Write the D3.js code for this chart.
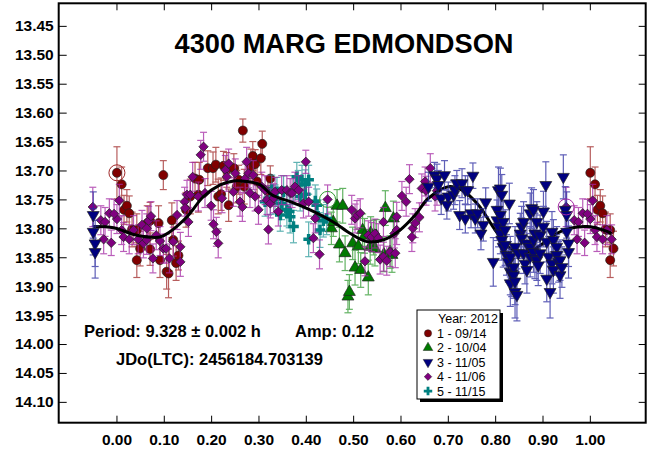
<!DOCTYPE html>
<html><head><meta charset="utf-8">
<script src="https://cdn.jsdelivr.net/npm/d3@7"></script>
<style>body{margin:0;background:#fff} text{font-family:"Liberation Sans",Arial,sans-serif}</style>
</head><body><svg id="c" width="649" height="451"></svg>
<script>
// ---------- data ----------
const titleText = "4300 MARG EDMONDSON";
const xTicks = [0.0,0.1,0.2,0.3,0.4,0.5,0.6,0.7,0.8,0.9,1.0];
const yTicks = [13.45,13.50,13.55,13.60,13.65,13.70,13.75,13.80,13.85,13.90,13.95,14.00,14.05,14.10];
const legendTitle = "Year: 2012";
const legendLabels = ["1 - 09/14","2 - 10/04","3 - 11/05","4 - 11/06","5 - 11/15"];

// [phase, magnitude, error]
const s1 = [[0.001,13.704,0.045],[0.011,13.724,0.030],[0.016,13.768,0.025],[0.022,13.761,0.028],[0.027,13.774,0.030],
[0.033,13.802,0.030],[0.043,13.803,0.028],[0.043,13.855,0.030],[0.050,13.835,0.030],[0.065,13.791,0.030],
[0.071,13.787,0.032],[0.071,13.836,0.028],[0.089,13.791,0.030],[0.092,13.855,0.030],[0.099,13.708,0.025],
[0.106,13.875,0.030],[0.110,13.878,0.042],[0.117,13.786,0.030],[0.120,13.820,0.028],[0.126,13.860,0.030],
[0.131,13.847,0.025],[0.147,13.768,0.030],[0.156,13.745,0.030],[0.166,13.714,0.028],[0.173,13.742,0.030],
[0.175,13.716,0.030],[0.193,13.696,0.030],[0.204,13.696,0.028],[0.210,13.690,0.030],[0.215,13.745,0.030],
[0.221,13.741,0.028],[0.226,13.692,0.025],[0.233,13.699,0.030],[0.237,13.760,0.028],[0.248,13.696,0.025],
[0.254,13.728,0.028],[0.258,13.716,0.025],[0.267,13.631,0.020],[0.270,13.728,0.030],[0.284,13.693,0.030],
[0.288,13.675,0.025],[0.293,13.689,0.025],[0.297,13.719,0.028],[0.305,13.679,0.028],[0.308,13.654,0.022],
[0.320,13.736,0.025],[0.325,13.714,0.022]];

const s2 = [[0.454,13.800,0.028],[0.458,13.789,0.025],[0.466,13.761,0.028],[0.471,13.828,0.030],[0.478,13.761,0.030],
[0.483,13.843,0.030],[0.489,13.918,0.028],[0.492,13.910,0.030],[0.499,13.826,0.028],[0.504,13.868,0.030],
[0.511,13.831,0.030],[0.516,13.872,0.030],[0.520,13.803,0.028],[0.524,13.813,0.030],[0.532,13.885,0.030],
[0.536,13.832,0.030],[0.537,13.808,0.028],[0.543,13.816,0.030],[0.549,13.813,0.028],[0.546,13.835,0.030],
[0.565,13.845,0.030],[0.568,13.765,0.030],[0.578,13.841,0.028],[0.582,13.846,0.030],[0.585,13.783,0.030]];

const s3 = [[0.659,13.728,0.025],[0.672,13.708,0.022],[0.677,13.714,0.025],[0.680,13.725,0.025],[0.686,13.748,0.028],
[0.693,13.708,0.025],[0.698,13.759,0.025],[0.701,13.745,0.025],[0.712,13.742,0.025],[0.715,13.734,0.025],
[0.719,13.722,0.022],[0.725,13.777,0.025],[0.730,13.722,0.025],[0.737,13.783,0.025],[0.737,13.734,0.025],
[0.742,13.734,0.025],[0.749,13.774,0.025],[0.753,13.709,0.022],[0.758,13.783,0.025],[0.763,13.774,0.025],
[0.770,13.809,0.028],[0.775,13.794,0.028],[0.780,13.755,0.025],[0.796,13.858,0.042],[0.804,13.768,0.035],
[0.804,13.786,0.035],[0.807,13.734,0.040],[0.807,13.797,0.035],[0.811,13.731,0.035],[0.811,13.777,0.035],
[0.811,13.809,0.035],[0.814,13.742,0.035],[0.814,13.820,0.035],[0.817,13.789,0.035],[0.817,13.832,0.035],
[0.821,13.803,0.035],[0.821,13.829,0.035],[0.824,13.846,0.035],[0.828,13.858,0.035],[0.830,13.757,0.035],
[0.832,13.849,0.035],[0.832,13.875,0.040],[0.832,13.895,0.040],[0.835,13.878,0.040],[0.839,13.867,0.035],
[0.839,13.881,0.040],[0.842,13.892,0.040],[0.842,13.910,0.045],[0.842,13.832,0.035],[0.846,13.915,0.045],
[0.849,13.843,0.035],[0.853,13.809,0.035],[0.856,13.797,0.035],[0.856,13.817,0.035],[0.860,13.789,0.035],
[0.860,13.843,0.035],[0.863,13.861,0.035],[0.867,13.826,0.035],[0.867,13.872,0.040],[0.874,13.832,0.035],
[0.874,13.849,0.035],[0.874,13.774,0.035],[0.877,13.765,0.035],[0.881,13.768,0.035],[0.881,13.820,0.035],
[0.881,13.841,0.035],[0.884,13.809,0.035],[0.884,13.852,0.035],[0.888,13.789,0.035],[0.888,13.855,0.035],
[0.891,13.864,0.035],[0.895,13.843,0.035],[0.895,13.812,0.035],[0.902,13.771,0.035],[0.902,13.797,0.035],
[0.907,13.725,0.040],[0.909,13.823,0.035],[0.909,13.887,0.040],[0.913,13.849,0.035],[0.916,13.910,0.045],
[0.920,13.806,0.035],[0.920,13.861,0.035],[0.923,13.820,0.035],[0.923,13.872,0.040],[0.930,13.832,0.035],
[0.930,13.846,0.035],[0.934,13.858,0.035],[0.937,13.855,0.035],[0.937,13.881,0.040],[0.941,13.867,0.035],
[0.944,13.711,0.038],[0.948,13.768,0.040],[0.951,13.777,0.040],[0.951,13.806,0.040],[0.955,13.841,0.045],
[0.955,13.826,0.040]];

const s4 = [[0.950,13.763,0.034],[0.001,13.784,0.025],[0.006,13.752,0.028],[0.011,13.803,0.025],[0.015,13.815,0.025],
[0.027,13.819,0.025],[0.036,13.803,0.025],[0.046,13.819,0.025],[0.054,13.794,0.025],[0.057,13.826,0.025],
[0.064,13.800,0.025],[0.064,13.820,0.025],[0.068,13.787,0.025],[0.073,13.779,0.025],[0.077,13.852,0.025],
[0.084,13.812,0.025],[0.092,13.822,0.025],[0.099,13.835,0.025],[0.105,13.835,0.025],[0.112,13.852,0.025],
[0.120,13.823,0.025],[0.128,13.777,0.025],[0.135,13.832,0.025],[0.135,13.858,0.025],[0.144,13.754,0.025],
[0.145,13.765,0.025],[0.149,13.742,0.025],[0.152,13.789,0.025],[0.156,13.742,0.025],[0.161,13.711,0.025],
[0.173,13.745,0.025],[0.178,13.673,0.025],[0.184,13.659,0.025],[0.187,13.739,0.025],[0.200,13.761,0.025],
[0.205,13.793,0.025],[0.211,13.806,0.025],[0.215,13.826,0.025],[0.223,13.748,0.025],[0.230,13.699,0.025],
[0.233,13.711,0.025],[0.237,13.688,0.025],[0.247,13.737,0.025],[0.251,13.705,0.025],[0.261,13.754,0.025],
[0.266,13.763,0.025],[0.272,13.714,0.025],[0.275,13.685,0.025],[0.279,13.705,0.025],[0.282,13.739,0.025],
[0.289,13.708,0.025],[0.293,13.745,0.025],[0.300,13.768,0.025],[0.307,13.728,0.025],[0.314,13.734,0.025],
[0.318,13.751,0.025],[0.321,13.802,0.025],[0.325,13.757,0.025],[0.332,13.748,0.025],[0.335,13.737,0.025],
[0.342,13.771,0.025],[0.349,13.734,0.025],[0.360,13.734,0.025],[0.367,13.739,0.025],[0.371,13.739,0.025],
[0.377,13.728,0.025],[0.385,13.734,0.025],[0.395,13.757,0.025],[0.400,13.685,0.020],[0.406,13.754,0.025],
[0.416,13.817,0.025],[0.420,13.783,0.025],[0.429,13.845,0.025],[0.446,13.750,0.025],[0.497,13.768,0.025],
[0.504,13.783,0.025],[0.508,13.777,0.025],[0.515,13.774,0.025],[0.525,13.857,0.025],[0.532,13.812,0.025],
[0.539,13.815,0.025],[0.546,13.809,0.025],[0.553,13.817,0.025],[0.557,13.854,0.025],[0.564,13.849,0.025],
[0.564,13.789,0.025],[0.571,13.856,0.025],[0.578,13.841,0.025],[0.587,13.809,0.025],[0.589,13.843,0.025],
[0.592,13.803,0.025],[0.592,13.780,0.025],[0.603,13.744,0.025],[0.612,13.754,0.025],[0.619,13.715,0.025],
[0.624,13.815,0.025],[0.626,13.800,0.025],[0.631,13.791,0.025],[0.640,13.781,0.025],[0.645,13.731,0.025],
[0.652,13.719,0.025],[0.654,13.735,0.025],[0.663,13.696,0.025],[0.673,13.745,0.025],[0.677,13.735,0.025],
[0.967,13.786,0.025],[0.973,13.819,0.025],[0.976,13.789,0.025],[0.985,13.774,0.025],[0.989,13.825,0.022],
[0.995,13.775,0.025]];

const s5 = [[0.314,13.754,0.025],[0.328,13.733,0.025],[0.325,13.751,0.025],[0.339,13.737,0.025],[0.335,13.750,0.025],
[0.349,13.757,0.028],[0.353,13.737,0.028],[0.346,13.777,0.028],[0.360,13.768,0.028],[0.365,13.771,0.028],
[0.374,13.797,0.028],[0.374,13.734,0.025],[0.381,13.711,0.025],[0.384,13.725,0.025],[0.392,13.716,0.025],
[0.388,13.745,0.025],[0.399,13.724,0.025],[0.399,13.741,0.025],[0.406,13.716,0.025],[0.406,13.819,0.030],
[0.420,13.753,0.028],[0.423,13.760,0.028],[0.426,13.779,0.028],[0.430,13.803,0.030],[0.437,13.787,0.028],
[0.444,13.783,0.028],[0.367,13.780,0.028]];

// first observation of sessions (circled)
const startPts = [[0,0.001,13.704],[1,0.446,13.750],[3,0.950,13.763]];

const fitPhase = [-0.049,-0.006,0.043,0.092,0.113,0.149,0.184,0.219,0.247,0.275,0.304,0.328,0.371,0.409,0.458,0.494,
0.529,0.564,0.599,0.631,0.659,0.701,0.730,0.765,0.800,0.832,0.860,0.902,0.930,0.958,0.994,1.029,1.046];
const fitMag = [13.797,13.799,13.812,13.815,13.806,13.780,13.745,13.725,13.718,13.719,13.725,13.742,13.755,13.768,13.789,13.809,
13.823,13.820,13.803,13.777,13.748,13.728,13.734,13.760,13.803,13.835,13.843,13.826,13.809,13.800,13.797,13.803,13.809];

const periodText = "Period: 9.328 \u00b1 0.002 h";
const ampText = "Amp: 0.12";
const jdText = "JDo(LTC): 2456184.703139";

// ---------- drawing ----------
const svg = d3.select("#c");
const L=58.7, R=645.7, T=3.3, B=422.7;
const x = d3.scaleLinear().domain([-0.122,1.118]).range([L,R]);
const y = d3.scaleLinear().domain([13.411,14.136]).range([T,B]);

const series = [
  {data:s1, fill:"#800000", bar:"#a02828", type:"circle"},
  {data:s2, fill:"#007a00", bar:"#2f9a2f", type:"up"},
  {data:s3, fill:"#000080", bar:"#2a2aa0", type:"down"},
  {data:s4, fill:"#800080", bar:"#a428a4", type:"diamond"},
  {data:s5, fill:"#008080", bar:"#2a9a9a", type:"plus"}
];

function markerPath(type, s){
  s = s||1;
  if(type==="circle") return d3.symbol(d3.symbolCircle, 64*s*s)();
  if(type==="up") return d3.symbol(d3.symbolTriangle, 62*s*s)();
  if(type==="down") return d3.symbol(d3.symbolTriangle, 62*s*s)();
  if(type==="diamond") return d3.symbol(d3.symbolSquare, 44*s*s)();
  if(type==="plus") return d3.symbol(d3.symbolCross, 62*s*s)();
}
function markerTransform(type, px, py){
  if(type==="down") return `translate(${px},${py}) rotate(180)`;
  if(type==="diamond") return `translate(${px},${py}) rotate(45)`;
  return `translate(${px},${py})`;
}
function expand(data){
  const out=[];
  data.forEach(d=>{
    out.push([d[0],d[1],d[2]]);
    if(d[0]<=0.05) out.push([d[0]+1,d[1],d[2]]);
    if(d[0]>=0.95) out.push([d[0]-1,d[1],d[2]]);
  });
  return out;
}

const plot = svg.append("g");
function drawSeries(sr){
  const pts = expand(sr.data);
  const g = plot.append("g");
  const eb = g.append("g").attr("stroke",sr.bar).attr("stroke-width",1.2).attr("opacity",0.75);
  pts.forEach(d=>{
    const px=x(d[0]), y1=y(d[1]-d[2]), y2=y(d[1]+d[2]);
    eb.append("line").attr("x1",px).attr("x2",px).attr("y1",y1).attr("y2",y2);
    eb.append("line").attr("x1",px-3.5).attr("x2",px+3.5).attr("y1",y1).attr("y2",y1);
    eb.append("line").attr("x1",px-3.5).attr("x2",px+3.5).attr("y1",y2).attr("y2",y2);
  });
  g.selectAll("path.m").data(pts).join("path").attr("class","m")
    .attr("d",markerPath(sr.type))
    .attr("transform",d=>markerTransform(sr.type,x(d[0]),y(d[1])))
    .attr("fill",sr.fill)
    .attr("stroke",sr.type==="plus"?"none":"#222")
    .attr("stroke-width",0.7);
}
// draw order
[0,1,4,3].forEach(i=>drawSeries(series[i]));
// fit curve
const fit = fitPhase.map((p,i)=>[p,fitMag[i]]);
plot.append("path").datum(fit)
  .attr("d",d3.line().x(d=>x(d[0])).y(d=>y(d[1])).curve(d3.curveCatmullRom))
  .attr("fill","none").attr("stroke","#000").attr("stroke-width",3);
drawSeries(series[2]);
// session start rings (at the original phase only)
startPts.forEach(s=>{
  plot.append("circle").attr("cx",x(s[1])).attr("cy",y(s[2])).attr("r",8)
    .attr("fill","none").attr("stroke",series[s[0]].bar).attr("stroke-width",1);
});

// frame
svg.append("rect").attr("x",L).attr("y",T).attr("width",R-L).attr("height",B-T)
  .attr("fill","none").attr("stroke","#000").attr("stroke-width",2);

// axes
const axB = svg.append("g").attr("transform",`translate(0,${B})`)
  .call(d3.axisBottom(x).tickValues(xTicks).tickSizeInner(-7).tickSizeOuter(0).tickPadding(11).tickFormat(d3.format(".2f")));
const axT = svg.append("g").attr("transform",`translate(0,${T})`)
  .call(d3.axisTop(x).tickValues(xTicks).tickSizeInner(-7).tickSizeOuter(0).tickFormat(""));
const axL = svg.append("g").attr("transform",`translate(${L},0)`)
  .call(d3.axisLeft(y).tickValues(yTicks).tickSizeInner(-8).tickSizeOuter(0).tickPadding(5).tickFormat(d3.format(".2f")));
const axR = svg.append("g").attr("transform",`translate(${R},0)`)
  .call(d3.axisRight(y).tickValues(yTicks).tickSizeInner(-7).tickSizeOuter(0).tickFormat(""));
[axB,axT,axL,axR].forEach(a=>{
  a.select(".domain").remove();
  a.selectAll(".tick line").attr("stroke","#000").attr("stroke-width",1);
  a.selectAll("text").attr("font-family","'Liberation Sans',Arial,sans-serif")
    .attr("font-weight","bold").attr("font-size","15.5px").attr("fill","#000");
});
axB.selectAll("text").attr("dy","0.71em");

// title
svg.append("text").attr("x",344).attr("y",53).attr("text-anchor","middle")
  .attr("font-weight","bold").attr("font-size","27px")
  .attr("textLength",339).attr("lengthAdjust","spacingAndGlyphs").text(titleText);

// stats text
svg.append("text").attr("x",84).attr("y",337).attr("font-weight","bold").attr("font-size","16.5px").text(periodText);
svg.append("text").attr("x",295).attr("y",337).attr("font-weight","bold").attr("font-size","16.5px").text(ampText);
svg.append("text").attr("x",116).attr("y",365).attr("font-weight","bold").attr("font-size","16.5px").text(jdText);

// legend
const lg = svg.append("g");
lg.append("rect").attr("x",420).attr("y",313).attr("width",83).attr("height",89).attr("fill","#000");
lg.append("rect").attr("x",417).attr("y",310).attr("width",83).attr("height",89).attr("fill","#fff").attr("stroke","#000").attr("stroke-width",1);
lg.append("text").attr("x",498).attr("y",322.5).attr("text-anchor","end").attr("font-size","12.5px").text(legendTitle);
legendLabels.forEach((lab,i)=>{
  const cy = 333.3 + i*14.45;
  const sr = series[i];
  lg.append("path").attr("d",markerPath(sr.type,0.8))
    .attr("transform",markerTransform(sr.type,428,cy))
    .attr("fill",sr.fill).attr("stroke",sr.type==="plus"?"none":"#222").attr("stroke-width",0.5);
  lg.append("text").attr("x",437).attr("y",cy+4.5).attr("font-size","12.5px").text(lab);
});
</script>
</body></html>
